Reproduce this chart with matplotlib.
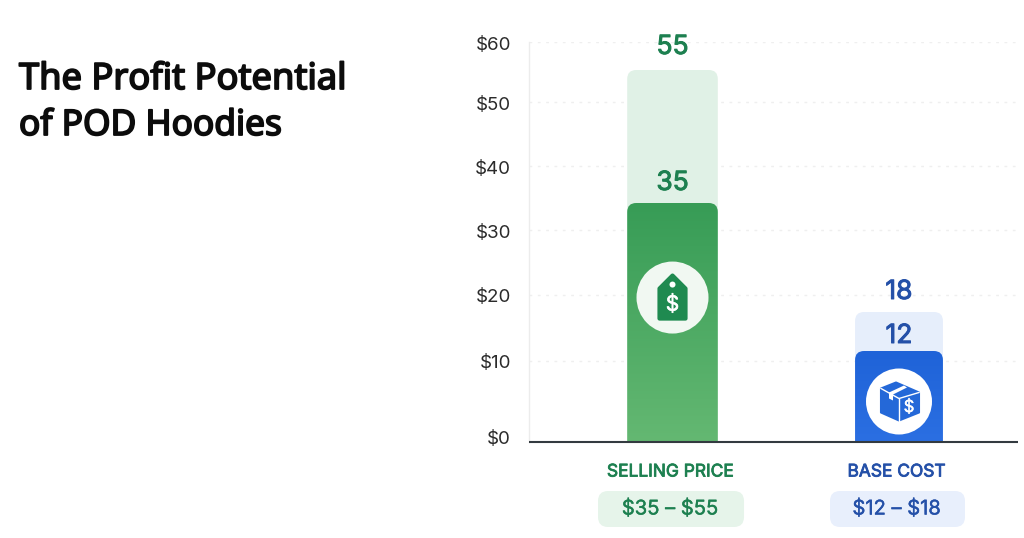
import numpy as np
import matplotlib
matplotlib.use("Agg")
import matplotlib.pyplot as plt
import matplotlib.patheffects as pe
from matplotlib.patches import Circle, FancyBboxPatch, PathPatch, Polygon
from matplotlib.path import Path
from matplotlib.transforms import ScaledTranslation

# Chart data
categories = ["SELLING PRICE", "BASE COST"]
low_values = [35, 12]
high_values = [55, 18]
range_labels = [r"\$35 – \$55", r"\$12 – \$18"]
icon_levels = [19.7, 5]
tick_values = [0, 10, 20, 30, 40, 50, 60]
tick_labels = [r"\$0", r"\$10", r"\$20", r"\$30", r"\$40", r"\$50", r"\$60"]

# The drawn axis is not evenly spaced, these are its knots (value, height share)
scale_values = [0, 10, 12, 18, 20, 30, 35, 40, 50, 55, 60]
scale_shares = [0.0, 0.2025, 0.2275, 0.325, 0.3675, 0.53, 0.5975, 0.69, 0.85, 0.93, 1.0]

# Colours
text_colors = ["#1d8050", "#2450a8"]
pale_colors = ["#e0f1e6", "#e6eefb"]
pill_colors = ["#e6f4ea", "#e8effc"]
top_colors = ["#379c56", "#1f63d8"]
bottom_colors = ["#64b872", "#2b6fe2"]
circle_colors = ["#f1f8f2", "#ffffff"]
icon_colors = ["#1f8a50", "#2468d8"]

W, H = 1024, 538
UI_FONT = ["Inter", "Roboto", "DejaVu Sans"]
fig = plt.figure(figsize=(W / 100, H / 100), dpi=100, facecolor="white")


# Fake heavier weight, the installed files draw regular only
def heavier(color, width):
    return [pe.withStroke(linewidth=width, foreground=color)]


# Main axes, carries scale, grid and tick labels
ax = fig.add_axes([529 / W, (H - 442) / H, 489 / W, 400 / H])
ax.set_yscale(
    "function",
    functions=(
        lambda v: np.interp(v, scale_values, scale_shares),
        lambda s: np.interp(s, scale_shares, scale_values),
    ),
)
ax.set_ylim(0, 60)
ax.set_xlim(-0.6336, 1.5254)
ax.patch.set_alpha(0)
ax.set_yticks(tick_values)
ax.set_yticks([], minor=True)
ax.set_yticklabels(tick_labels, fontsize=13.5, color="#2b2b2b", family=UI_FONT)
ax.tick_params(axis="y", length=0, pad=13)
ax.tick_params(axis="x", length=0)
ax.set_xticks([])
ax.yaxis.grid(True, color="#efefef", linestyle=(0, (2, 4)), linewidth=1)
for side in ["top", "right", "bottom"]:
    ax.spines[side].set_visible(False)
ax.spines["left"].set_color("#ececec")
ax.spines["left"].set_linewidth(1)

# Labels sit a pixel low, the $0 label well above the baseline
for tick_label, nudge in zip(ax.get_yticklabels(), [5, -1, -1, -1, -1, -1, -1]):
    tick_label.set_transform(
        tick_label.get_transform() + ScaledTranslation(0, nudge / 100, fig.dpi_scale_trans)
    )

# Pixel overlay, for rounded bars, gradients and icons
over = fig.add_axes([0, 0, 1, 1])
over.set_xlim(0, W)
over.set_ylim(H, 0)
over.axis("off")


def to_pixel(x, value):
    px, py = ax.transData.transform((x, value))
    return px, H - py


def round_top(x0, x1, y_top, y_bot, r):
    verts = [
        (x0, y_bot), (x0, y_top + r), (x0, y_top), (x0 + r, y_top),
        (x1 - r, y_top), (x1, y_top), (x1, y_top + r), (x1, y_bot), (x0, y_bot),
    ]
    codes = [
        Path.MOVETO, Path.LINETO, Path.CURVE3, Path.CURVE3,
        Path.LINETO, Path.CURVE3, Path.CURVE3, Path.LINETO, Path.CLOSEPOLY,
    ]
    return Path(verts, codes)


bar_half = [0.2, 0.194]
for i, name in enumerate(categories):
    cx, y_base = to_pixel(i, 0)
    x0 = to_pixel(i - bar_half[i], 0)[0]
    x1 = to_pixel(i + bar_half[i], 0)[0]
    y_low = to_pixel(i, low_values[i])[1]
    y_high = to_pixel(i, high_values[i])[1]
    tc = text_colors[i]

    # Pale range bar
    over.add_patch(PathPatch(round_top(x0, x1, y_high, y_base, 9),
                             facecolor=pale_colors[i], edgecolor="none", zorder=2))

    # Solid bar with vertical gradient
    shape = PathPatch(round_top(x0, x1, y_low, y_base, 9),
                      facecolor="none", edgecolor="none", zorder=3)
    over.add_patch(shape)
    cmap = matplotlib.colors.LinearSegmentedColormap.from_list(
        "bar", [top_colors[i], bottom_colors[i]]
    )
    img = over.imshow(np.linspace(0, 1, 256).reshape(-1, 1), cmap=cmap, aspect="auto",
                      extent=(x0, x1, y_base, y_low), zorder=3)
    img.set_clip_path(shape)

    # Value labels
    label_gap = [[21, 24], [16, 21]][i]
    over.text(cx, y_low - label_gap[0] + 1, str(low_values[i]), ha="center", va="center",
              fontsize=19, color=tc, family=UI_FONT, zorder=6,
              path_effects=heavier(tc, 0.7))
    over.text(cx, y_high - label_gap[1] + 1, str(high_values[i]), ha="center", va="center",
              fontsize=19, color=tc, family=UI_FONT, zorder=6,
              path_effects=heavier(tc, 0.7))

    # Category name and range pill
    over.text(cx - 2.5, 472, name, ha="center", va="center", fontsize=12.5,
              color=tc, family=UI_FONT, path_effects=heavier(tc, 0.6))
    pill_half = [73, 67.5][i]
    over.add_patch(FancyBboxPatch((cx - 1.5 - pill_half, 491), 2 * pill_half, 36,
                                  boxstyle="round,pad=0,rounding_size=10",
                                  linewidth=0, facecolor=pill_colors[i], zorder=2))
    over.text(cx - 2.5, 509, range_labels[i], ha="center", va="center", fontsize=14.5,
              color=tc, family=UI_FONT, zorder=3, path_effects=heavier(tc, 0.3))

    # Icon disc
    _, iy = to_pixel(i, icon_levels[i])
    radius = [36, 33][i]
    over.add_patch(Circle((cx, iy), radius, facecolor=circle_colors[i],
                          edgecolor="none", zorder=4))
    color = icon_colors[i]
    if i == 0:
        # Price tag
        over.add_patch(Polygon([(cx, iy - 22), (cx + 13, iy - 9), (cx + 13, iy + 21),
                                (cx - 13, iy + 21), (cx - 13, iy - 9)],
                               closed=True, facecolor=color, edgecolor=color,
                               linewidth=3, joinstyle="round", zorder=5))
        over.add_patch(Circle((cx, iy - 13), 3, facecolor="white", edgecolor="none", zorder=6))
        over.text(cx, iy + 7, r"\$", ha="center", va="center", fontsize=15,
                  color="white", family=UI_FONT, zorder=6,
                  path_effects=heavier("white", 0.4))
    else:
        # Parcel
        over.add_patch(Polygon([(cx - 18, iy - 13), (cx - 3, iy - 19), (cx + 20, iy - 9),
                                (cx + 20, iy + 11), (cx, iy + 19), (cx - 18, iy + 11)],
                               closed=True, facecolor=color, edgecolor=color,
                               linewidth=1.5, joinstyle="round", zorder=5))
        over.plot([cx - 18, cx, cx + 20], [iy - 13, iy - 3, iy - 9], color="white",
                  linewidth=1, zorder=6)
        over.plot([cx, cx], [iy - 3, iy + 19], color="white", linewidth=1, zorder=6)
        over.add_patch(Polygon([(cx - 10, iy - 9), (cx + 5, iy - 16), (cx + 8, iy - 14),
                                (cx - 6, iy - 7), (cx - 6, iy - 1), (cx - 10, iy - 3)],
                               closed=True, facecolor="white", edgecolor="none", zorder=6))
        over.text(cx + 10, iy + 6, r"\$", ha="center", va="center", fontsize=12,
                  color="white", family=UI_FONT, zorder=6,
                  path_effects=heavier("white", 0.3))

# Baseline on top of the bars
x_left, y_zero = to_pixel(ax.get_xlim()[0], 0)
x_right, _ = to_pixel(ax.get_xlim()[1], 0)
over.plot([x_left, x_right], [y_zero, y_zero], color="#333a40", linewidth=1.5, zorder=7,
          solid_capstyle="butt")

# Heading
for line, y, size in zip(["The Profit Potential", "of POD Hoodies"], [80, 126], [26.1, 25.4]):
    over.text(19, y, line, ha="left", va="center", fontsize=size, color="#0c0c0c",
              family=["Noto Sans", "DejaVu Sans"], path_effects=heavier("#0c0c0c", 1.3))

over.set_xlim(0, W)
over.set_ylim(H, 0)
fig.savefig("out.png", dpi=100)
